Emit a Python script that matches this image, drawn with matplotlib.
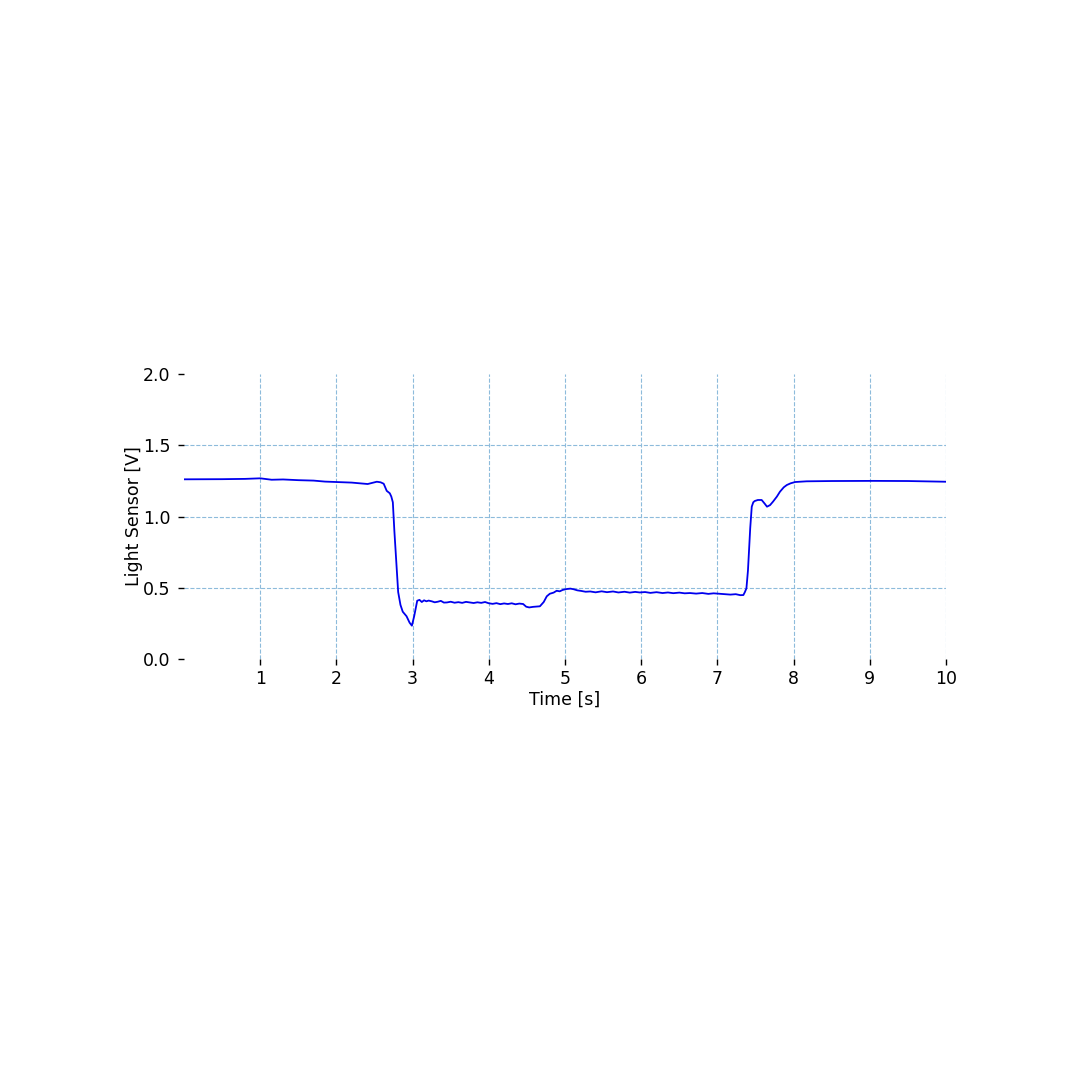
import matplotlib
matplotlib.use("Agg")
import matplotlib.pyplot as plt

# light sensor trace
time_s = [0.00, 0.50, 0.80, 1.00, 1.15, 1.30, 1.50, 1.70, 1.85, 2.00, 2.20, 2.41,
          2.47, 2.53, 2.58, 2.62, 2.66, 2.70, 2.72, 2.74, 2.76, 2.79, 2.81, 2.84, 2.87,
          2.92, 2.96, 2.99, 3.02, 3.06, 3.09, 3.12, 3.15, 3.18, 3.21, 3.25, 3.29,
          3.33, 3.37, 3.41, 3.45, 3.50, 3.55, 3.60, 3.65, 3.70, 3.75, 3.80, 3.85,
          3.90, 3.95, 4.00, 4.05, 4.10, 4.15, 4.20, 4.25, 4.30, 4.35, 4.40, 4.45,
          4.49, 4.53, 4.58, 4.63, 4.67, 4.72, 4.76, 4.80, 4.85, 4.89, 4.93, 4.97,
          5.02, 5.07, 5.11, 5.16, 5.21, 5.27, 5.33, 5.40, 5.48, 5.55, 5.63, 5.70,
          5.78, 5.85, 5.92, 5.98, 6.05, 6.12, 6.20, 6.28, 6.35, 6.42, 6.50, 6.57,
          6.64, 6.72, 6.80, 6.88, 6.95, 7.03, 7.10, 7.17, 7.24, 7.30, 7.34, 7.36,
          7.38, 7.40, 7.41, 7.43, 7.45, 7.47, 7.49, 7.53, 7.58, 7.62, 7.65, 7.69,
          7.73, 7.78, 7.82, 7.87, 7.91, 7.96, 8.02, 8.17, 8.50, 9.05, 9.50, 10.00]
voltage = [1.261, 1.262, 1.264, 1.268, 1.258, 1.260, 1.255, 1.252, 1.245, 1.242, 1.238, 1.228,
           1.236, 1.244, 1.240, 1.230, 1.180, 1.163, 1.140, 1.100, 0.900, 0.640, 0.470, 0.380, 0.332,
           0.300, 0.255, 0.234, 0.300, 0.409, 0.415, 0.400, 0.412, 0.405, 0.410, 0.405, 0.398,
           0.402, 0.408, 0.396, 0.397, 0.402, 0.395, 0.399, 0.394, 0.401, 0.397, 0.393, 0.398,
           0.394, 0.400, 0.391, 0.387, 0.392, 0.385, 0.390, 0.386, 0.391, 0.384, 0.389, 0.386,
           0.367, 0.362, 0.366, 0.368, 0.370, 0.400, 0.440, 0.458, 0.466, 0.479, 0.475, 0.485,
           0.491, 0.494, 0.490, 0.482, 0.478, 0.472, 0.474, 0.468, 0.475, 0.469, 0.474, 0.467,
           0.472, 0.466, 0.471, 0.467, 0.470, 0.464, 0.469, 0.463, 0.467, 0.462, 0.466, 0.461,
           0.463, 0.459, 0.463, 0.457, 0.461, 0.458, 0.455, 0.452, 0.455, 0.448, 0.449, 0.470,
           0.496, 0.620, 0.718, 0.920, 1.069, 1.100, 1.109, 1.116, 1.116, 1.090, 1.069, 1.080,
           1.105, 1.140, 1.174, 1.205, 1.221, 1.233, 1.242, 1.247, 1.249, 1.250, 1.249, 1.244]

x_ticks = [1, 2, 3, 4, 5, 6, 7, 8, 9, 10]
y_ticks = [0.0, 0.5, 1.0, 1.5, 2.0]

fig = plt.figure(figsize=(10.8, 10.8), dpi=100)
ax = fig.add_axes([0.1704, 0.3898, 0.7056, 0.2639])

ax.plot(time_s, voltage, color="#0000ee", lw=1.3)

ax.set_xlim(0, 10)
ax.set_ylim(0, 2.0)
ax.set_xticks(x_ticks)
ax.set_yticks(y_ticks)
ax.set_yticklabels([f"{v:.1f}" for v in y_ticks])
ax.tick_params(labelsize=12.5, length=4, width=1)
ax.tick_params(axis="x", pad=4)
ax.tick_params(axis="y", pad=6)

for s in ax.spines.values():
    s.set_visible(False)

ax.grid(True, color="#8dbbdb", linestyle="--", lw=0.8)
# no horizontal grid at the limits
for val, gl in zip(y_ticks, ax.yaxis.get_gridlines()):
    if val in (0.0, 2.0):
        gl.set_visible(False)

ax.set_xlabel("Time [s]", fontsize=12.5, labelpad=2)
ax.set_ylabel("Light Sensor [V]", fontsize=12.5, labelpad=0)

fig.savefig("out.png", dpi=100)
